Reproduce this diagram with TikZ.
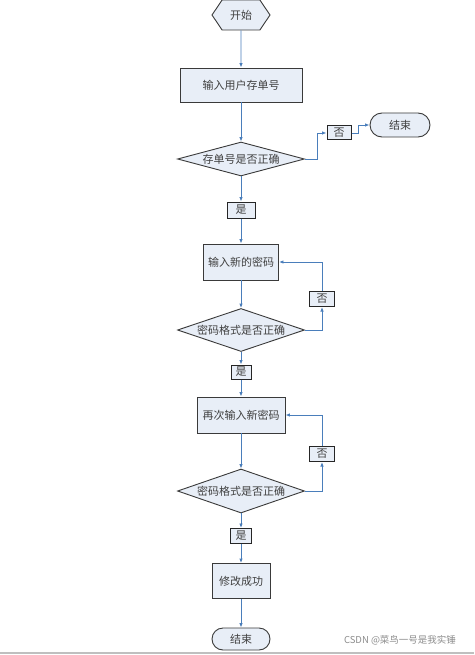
\documentclass[tikz,border=0pt]{standalone}
\usepackage{fontspec}
\setmainfont{Noto Sans CJK SC}
\setsansfont{Noto Sans CJK SC}
\usetikzlibrary{arrows.meta, shapes.geometric, shapes.symbols, shapes.misc}

\definecolor{boxfill}{HTML}{E8EEF7}
\definecolor{flowblue}{HTML}{4A7EBB}
\definecolor{boxline}{HTML}{3A3A3A}

\begin{document}
\begin{tikzpicture}[x=1pt, y=-1pt, node distance=50pt,
	font=\fontsize{11}{13}\selectfont,
	>={Latex[length=4.5pt,width=3.5pt]},
	base/.style={draw=boxline, line width=0.9pt, fill=boxfill, text=black!75, inner sep=0pt},
	proc/.style={base, rectangle},
	check/.style={base, diamond, aspect=3.7, minimum width=127pt},
	tag/.style={base, rectangle, line width=1pt, draw=black!85},
	flow/.style={->, draw=flowblue, line width=0.9pt}]
	\useasboundingbox (0,0) rectangle (474,655);

	\node[base, signal, signal to=west and east, signal pointer angle=112,
		minimum width=58pt, minimum height=30pt] (start) at (241,15) {开始};
	\node[proc, minimum width=122pt, minimum height=34pt] (in1) [node distance=70pt, below of=start] {输入用户存单号};
	\node[check, minimum height=34pt] (chk1) [node distance=74pt, below of=in1] {存单号是否正确};
	\node[tag, minimum width=28pt, minimum height=16pt] (yes1) [node distance=51pt, below of=chk1] {是};
	\node[proc, minimum width=75pt, minimum height=36pt] (in2) [node distance=52pt, below of=yes1] {输入新的密码};
	\node[check, minimum height=43pt] (chk2) [node distance=68pt, below of=in2] {密码格式是否正确};
	\node[tag, minimum width=20pt, minimum height=14pt] (yes2) [node distance=42pt, below of=chk2] {是};
	\node[proc, minimum width=88pt, minimum height=36pt] (in3) [node distance=43pt, below of=yes2] {再次输入新密码};
	\node[check, minimum height=44pt] (chk3) [node distance=76pt, below of=in3] {密码格式是否正确};
	\node[tag, minimum width=21pt, minimum height=15pt] (yes3) [node distance=45pt, below of=chk3] {是};
	\node[proc, minimum width=58pt, minimum height=35pt] (done) [node distance=45pt, below of=yes3] {修改成功};
	\node[base, rounded rectangle, minimum width=58pt, minimum height=22pt] (end2) [node distance=58pt, below of=done] {结束};

	\node[tag, minimum width=24pt, minimum height=14pt] (no1) at (339,133) {否};
	\node[base, rounded rectangle, minimum width=60pt, minimum height=24pt] (end1) at (400,125) {结束};
	\node[tag, minimum width=25pt, minimum height=15pt] (no2) at (322,299) {否};
	\node[tag, minimum width=25pt, minimum height=15pt] (no3) at (322,454) {否};

	\path[flow] (start) edge (in1);
	\path[flow] (in1) edge (chk1);
	\path[flow] (chk1) edge (yes1);
	\path[flow] (yes1) edge (in2);
	\path[flow] (in2) edge (chk2);
	\path[flow] (chk2) edge (yes2);
	\path[flow] (yes2) edge (in3);
	\path[flow] (in3) edge (chk3);
	\path[flow] (chk3) edge (yes3);
	\path[flow] (yes3) edge (done);
	\path[flow] (done) edge (end2);

	\draw[flow] (chk1.east) -- ++(12,0) |- (no1.west);
	\draw[flow] (no1.east) -- ++(7,0) |- (end1.west);
	\draw[flow] (chk2.east) -| (no2.south);
	\draw[flow] (no2.north) |- (in2.east);
	\draw[flow] (chk3.east) -| (no3.south);
	\draw[flow] (no3.north) |- (in3.east);

	% watermark and page edge
	\node[text=black!45, font=\sffamily\fontsize{9.5}{11}\selectfont] (mark) at (400,640) {CSDN @菜鸟一号是我实锤};
	\draw[black!25, line width=1.5pt] (0,653) -- (474,653);
\end{tikzpicture}
\end{document}
